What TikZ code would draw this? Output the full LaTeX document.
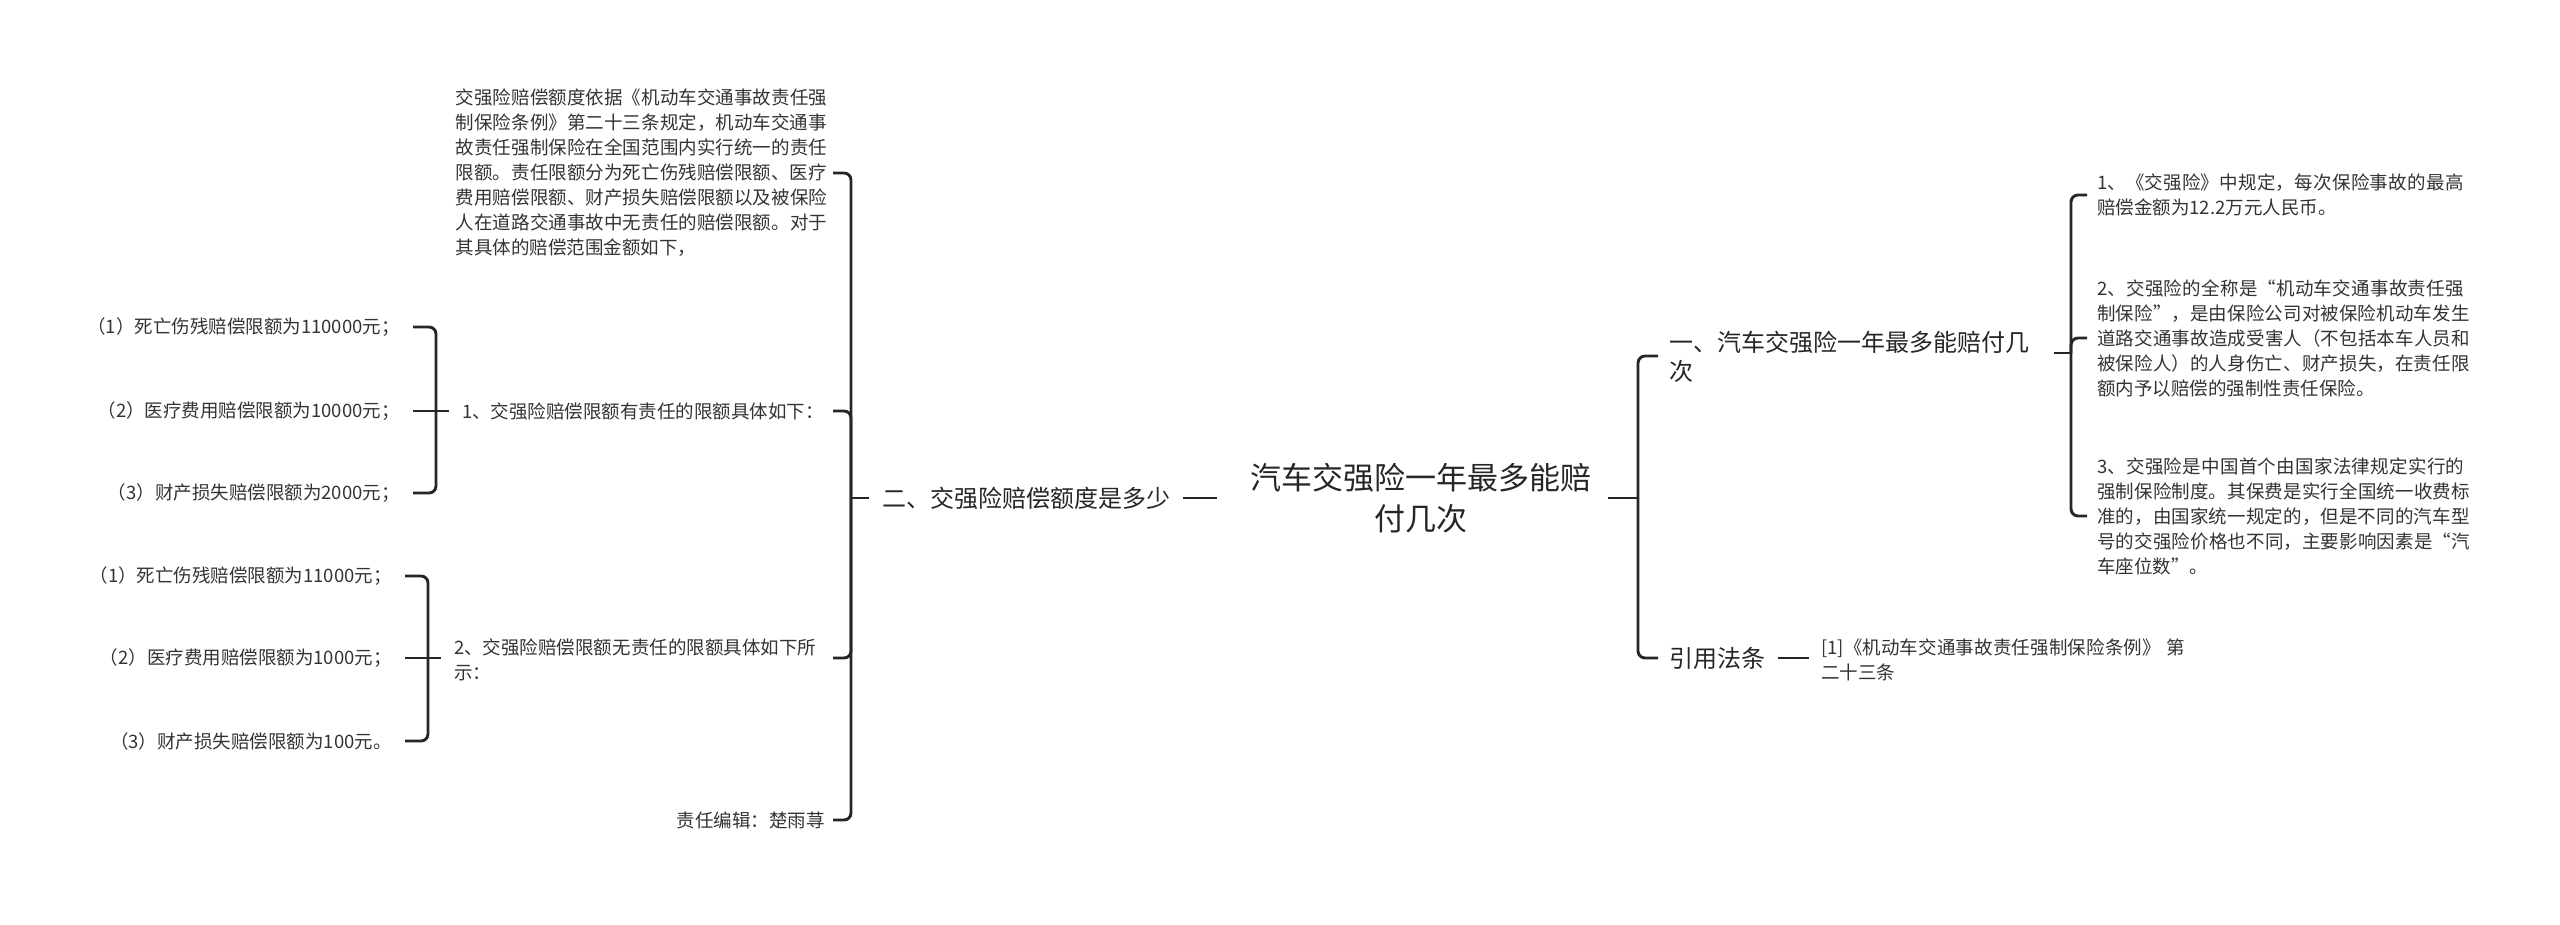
\documentclass[tikz,border=0pt]{standalone}
\usepackage{fontspec}
\setmainfont{Noto Sans CJK SC}
\XeTeXlinebreaklocale "zh"
\XeTeXlinebreakskip=0pt plus 1pt
\begin{document}
\begin{tikzpicture}[x=1pt,y=-1pt,
  txt/.style={inner sep=0pt,text=black!80,font=\fontsize{18.5}{25}\selectfont},
  big/.style={inner sep=0pt,text=black!85,font=\fontsize{24}{29}\selectfont},
  root/.style={inner sep=0pt,text=black!85,font=\fontsize{31}{41}\selectfont,align=center},
  ln/.style={draw=black!85,line width=2.9pt,rounded corners=7pt}]
\useasboundingbox (0,0) rectangle (2560,925);
\node[root] (root) at (1421,498) {汽车交强险一年最多能赔\\付几次};
% left main branch
\node[big,anchor=west] (L) at (882,498) {二、交强险赔偿额度是多少};
\draw[ln] ([xshift=13pt]L.east) coordinate (Le) -- (1217,498) coordinate (Lr);
\coordinate (B1) at (851,498);
\node[txt,anchor=east,text width=374pt,align=left] (t0) at (830,173) {交强险赔偿额度依据《机动车交通事故责任强制保险条例》第二十三条规定，机动车交通事故责任强制保险在全国范围内实行统一的责任限额。责任限额分为死亡伤残赔偿限额、医疗费用赔偿限额、财产损失赔偿限额以及被保险人在道路交通事故中无责任的赔偿限额。对于其具体的赔偿范围金额如下，};
\node[txt,anchor=west] (t1) at (462,411) {1、交强险赔偿限额有责任的限额具体如下：};
\node[txt,anchor=west,text width=362pt,align=left] (t2) at (454,660) {2、交强险赔偿限额无责任的限额具体如下所示：};
\node[txt,anchor=east] (t3) at (825,820) {责任编辑：楚雨荨};
\draw[ln] ([xshift=-13pt]L.west) -- (B1);
\draw[ln] (B1) |- (833,173) coordinate (h0);
\draw[ln] (B1) |- (833,411) coordinate (h1);
\draw[ln] (B1) |- (833,658) coordinate (h2);
\draw[ln] (B1) |- (833,820) coordinate (h3);
% sub 1
\coordinate (B2) at (436,411);
\node[txt,anchor=east] (a1) at (400,327) {（1）死亡伤残赔偿限额为110000元；};
\node[txt,anchor=east] (a2) at (400,411) {（2）医疗费用赔偿限额为10000元；};
\node[txt,anchor=east] (a3) at (400,493) {（3）财产损失赔偿限额为2000元；};
\draw[ln] ([xshift=-13pt]t1.west) coordinate (s1) -- (B2);
\draw[ln] (B2) |- ([xshift=13pt]a1.east);
\draw[ln] (B2) -- ([xshift=13pt]a2.east);
\draw[ln] (B2) |- ([xshift=13pt]a3.east);
% sub 2
\coordinate (B3) at (428,658);
\node[txt,anchor=east] (b1) at (392,576) {（1）死亡伤残赔偿限额为11000元；};
\node[txt,anchor=east] (b2) at (392,658) {（2）医疗费用赔偿限额为1000元；};
\node[txt,anchor=east] (b3) at (392,741) {（3）财产损失赔偿限额为100元。};
\draw[ln] (441,658) coordinate (s2) -- (B3);
\draw[ln] (B3) |- ([xshift=13pt]b1.east);
\draw[ln] (B3) -- ([xshift=13pt]b2.east);
\draw[ln] (B3) |- ([xshift=13pt]b3.east);
% right branch
\coordinate (R) at (1638,498);
\draw[ln] (1608,498) coordinate (rs) -- (R);
\node[big,anchor=west,text width=362pt,align=left] (R1) at (1669,357) {一、汽车交强险一年最多能赔付几次};
\node[big,anchor=west] (R2) at (1669,658) {引用法条};
\draw[ln] (R) |- (1658,356) coordinate (rh1);
\draw[ln] (R) |- (1658,658) coordinate (rh2);
\node[txt,anchor=west,text width=370pt,align=left] (ref) at (1821,660) {[1]《机动车交通事故责任强制保险条例》 第二十三条};
\draw[ln] ([xshift=13pt]R2.east) coordinate (r2e) -- (1809,658);
\coordinate (B4) at (2071,353);
\draw[ln] (2054,353) coordinate (r1e) -- (B4);
\node[txt,anchor=west,text width=378pt,align=left] (c1) at (2097,195) {1、《交强险》中规定，每次保险事故的最高赔偿金额为12.2万元人民币。};
\node[txt,anchor=west,text width=378pt,align=left] (c2) at (2097,338) {2、交强险的全称是“机动车交通事故责任强制保险”，是由保险公司对被保险机动车发生道路交通事故造成受害人（不包括本车人员和被保险人）的人身伤亡、财产损失，在责任限额内予以赔偿的强制性责任保险。};
\node[txt,anchor=west,text width=378pt,align=left] (c3) at (2097,516) {3、交强险是中国首个由国家法律规定实行的强制保险制度。其保费是实行全国统一收费标准的，由国家统一规定的，但是不同的汽车型号的交强险价格也不同，主要影响因素是“汽车座位数”。};
\draw[ln] (B4) |- ([xshift=-10pt]c1.west);
\draw[ln] (B4) |- ([xshift=-10pt]c2.west);
\draw[ln] (B4) |- ([xshift=-10pt]c3.west);
\end{tikzpicture}
\end{document}
